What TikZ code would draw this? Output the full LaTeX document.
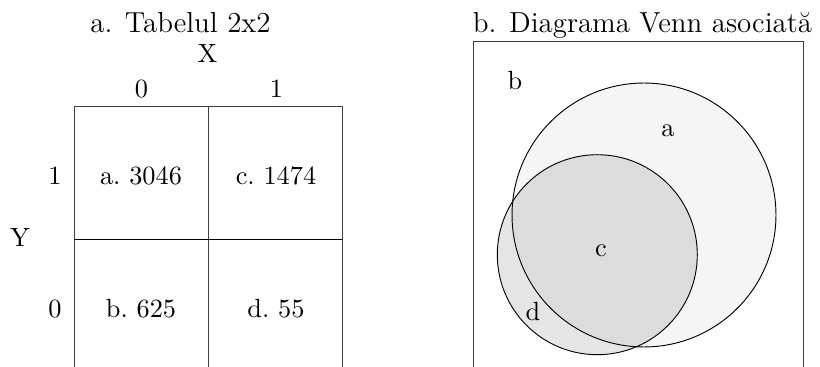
\documentclass[tikz,border=0pt]{standalone}
\usepackage{tikz}

\tikzset{
  lbl/.style={anchor=base, inner sep=0pt},
  ttl/.style={lbl, font=\fontsize{11}{13}\selectfont},
  setcirc/.style={circle, draw, inner sep=0pt, outer sep=0pt}
}

\begin{document}
\begin{tikzpicture}[x=0.38pt, y=-0.38pt, line width=0.35pt]
\useasboundingbox (0,0) rectangle (820,367);
% left: the 2x2 table
\node[ttl] (titleA) at (180.5,33) {a. Tabelul 2x2};
\node[lbl] (varX) at (207.5,63) {X};
\node[lbl] (colZero) at (141.5,98) {0};
\node[lbl] (colOne) at (276.5,98) {1};
\node[lbl] (varY) at (20,246.5) {Y};
\node[lbl] (rowOne) at (55,184) {1};
\node[lbl] (rowZero) at (55,317) {0};
\draw[black!75] (74,367) -- (74,106) -- (342,106) -- (342,367);
\draw[black!75] (208,106) -- (208,367);
\draw (74,239) -- (342,239);
\node[lbl] (cellA) at (141,184) {a.\ 3046};
\node[lbl] (cellC) at (276,184) {c.\ 1474};
\node[lbl] (cellB) at (141,317) {b.\ 625};
\node[lbl] (cellD) at (276,317) {d.\ 55};
% right: the Venn diagram
\node[ttl] (titleB) at (642.5,33) {b. Diagrama Venn asociat\u{a}};
\draw[black!75] (473.3,367) -- (473.3,41.7) -- (803.3,41.7) -- (803.3,367);
\node[setcirc, fill=black!4, minimum size=100.3pt] (setA) at (644,215) {};
\node[setcirc, fill=black, fill opacity=0.1, minimum size=76pt] (setC) at (597.3,254.7) {};
\node[lbl] (lblB) at (515,90) {b};
\node[lbl] (lblA) at (668,136.5) {a};
\node[lbl] (lblC) at (601,256.5) {c};
\node[lbl] (lblD) at (533,320.5) {d};
\end{tikzpicture}
\end{document}
